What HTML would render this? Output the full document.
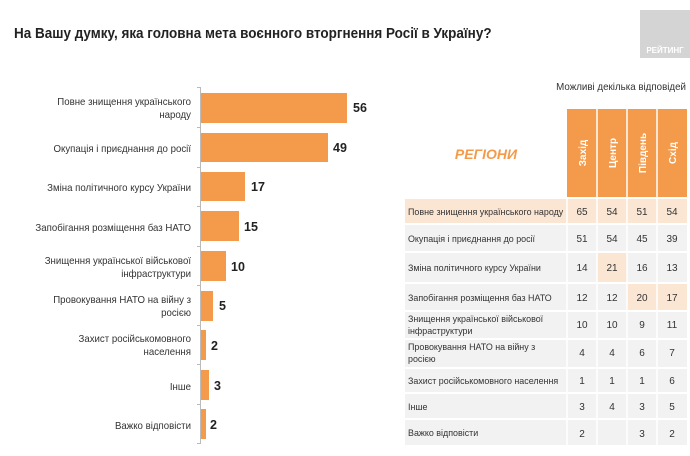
<!DOCTYPE html>
<html><head><meta charset="utf-8"><style>
body{margin:0;width:690px;height:451px;background:#fff;overflow:hidden;font-family:"Liberation Sans",sans-serif;}
svg text{font-family:"Liberation Sans",sans-serif;}
</style></head><body>
<svg width="690" height="451" viewBox="0 0 690 451" xmlns="http://www.w3.org/2000/svg">
<g transform="translate(14,0) scale(0.93,1)"><text x="0" y="38" font-size="14.5" font-weight="bold" fill="#222">На Вашу думку, яка головна мета воєнного вторгнення Росії в Україну?</text></g>
<rect x="640" y="10" width="50" height="48" fill="#d4d4d4"/>
<text x="665" y="53" font-size="8" font-weight="bold" fill="#fff" text-anchor="middle">РЕЙТИНГ</text>
<line x1="200.5" y1="87" x2="200.5" y2="444" stroke="#bbb" stroke-width="1"/>
<g stroke="#bbb">
<line x1="197" y1="87.5" x2="200" y2="87.5"/><line x1="197" y1="127.5" x2="200" y2="127.5"/><line x1="197" y1="167.5" x2="200" y2="167.5"/><line x1="197" y1="206.5" x2="200" y2="206.5"/><line x1="197" y1="246.5" x2="200" y2="246.5"/><line x1="197" y1="285.5" x2="200" y2="285.5"/><line x1="197" y1="325.5" x2="200" y2="325.5"/><line x1="197" y1="364.5" x2="200" y2="364.5"/><line x1="197" y1="404.5" x2="200" y2="404.5"/><line x1="197" y1="443.5" x2="200" y2="443.5"/>
</g>
<g fill="#f39a4b">
<rect x="201" y="93" width="146" height="30"/>
<rect x="201" y="133" width="127" height="29"/>
<rect x="201" y="172" width="44" height="29"/>
<rect x="201" y="211" width="38" height="30"/>
<rect x="201" y="251" width="25" height="30"/>
<rect x="201" y="291" width="12" height="30"/>
<rect x="201" y="330" width="5" height="30"/>
<rect x="201" y="370" width="8" height="30"/>
<rect x="201" y="409" width="5" height="30"/>
</g>
<g font-size="12.5" font-weight="bold" fill="#222">
<text x="353" y="112">56</text><text x="333" y="152">49</text><text x="251" y="191">17</text><text x="244" y="231">15</text><text x="231" y="271">10</text><text x="219" y="310">5</text><text x="211" y="350">2</text><text x="214" y="390">3</text><text x="210" y="429">2</text>
</g>
<g font-size="10.5" fill="#333" text-anchor="end" transform="translate(191,0) scale(0.92,1)">
<text x="0" y="105">Повне знищення українського</text><text x="0" y="118">народу</text>
<text x="0" y="152">Окупація і приєднання до росії</text>
<text x="0" y="191">Зміна політичного курсу України</text>
<text x="0" y="231">Запобігання розміщення баз НАТО</text>
<text x="0" y="264">Знищення української військової</text><text x="0" y="277">інфраструктури</text>
<text x="0" y="303">Провокування НАТО на війну з</text><text x="0" y="316">росією</text>
<text x="0" y="342">Захист російськомовного</text><text x="0" y="355">населення</text>
<text x="0" y="390">Інше</text>
<text x="0" y="429">Важко відповісти</text>
</g>
<g transform="translate(686,0) scale(0.93,1)"><text x="0" y="90" font-size="10.5" fill="#333" text-anchor="end">Можливі декілька відповідей</text></g>
<rect x="567" y="109" width="120" height="88" fill="#f39a4b"/>
<g stroke="#fff" stroke-width="1.5"><line x1="597" y1="109" x2="597" y2="197"/><line x1="627" y1="109" x2="627" y2="197"/><line x1="657" y1="109" x2="657" y2="197"/></g>
<g font-size="10" font-weight="bold" fill="#fff" text-anchor="middle">
<text transform="translate(586,153) rotate(-90)">Захід</text>
<text transform="translate(616,153) rotate(-90)">Центр</text>
<text transform="translate(646,153) rotate(-90)">Південь</text>
<text transform="translate(676,153) rotate(-90)">Схід</text>
</g>
<text x="486" y="159" font-size="14" font-weight="bold" font-style="italic" fill="#f39a4b" text-anchor="middle">РЕГІОНИ</text>
<g fill="#f2f2f2">
<rect x="405" y="199" width="282" height="24" fill="#fbe6d4"/>
<rect x="405" y="225" width="282" height="26"/>
<rect x="405" y="253" width="282" height="29"/>
<rect x="405" y="284" width="282" height="26"/>
<rect x="405" y="312" width="282" height="26"/>
<rect x="405" y="340" width="282" height="27"/>
<rect x="405" y="369" width="282" height="23"/>
<rect x="405" y="394" width="282" height="24"/>
<rect x="405" y="420" width="282" height="25"/>
</g>
<g fill="#fbe6d4"><rect x="597" y="253" width="30" height="29"/><rect x="627" y="284" width="60" height="26"/></g>
<g stroke="#fff" stroke-width="1.5"><line x1="567" y1="199" x2="567" y2="445"/><line x1="597" y1="199" x2="597" y2="445"/><line x1="627" y1="199" x2="627" y2="445"/><line x1="657" y1="199" x2="657" y2="445"/></g>
<g font-size="9.5" fill="#333" transform="translate(408,0) scale(0.94,1)">
<text x="0" y="215">Повне знищення українського народу</text>
<text x="0" y="242">Окупація і приєднання до росії</text>
<text x="0" y="271">Зміна політичного курсу України</text>
<text x="0" y="301">Запобігання розміщення баз НАТО</text>
<text x="0" y="322">Знищення української військової</text><text x="0" y="334">інфраструктури</text>
<text x="0" y="350">Провокування НАТО на війну з</text><text x="0" y="362">росією</text>
<text x="0" y="384">Захист російськомовного населення</text>
<text x="0" y="410">Інше</text>
<text x="0" y="436">Важко відповісти</text>
</g>
<g font-size="10" fill="#333" text-anchor="middle">
<text x="582" y="215">65</text><text x="612" y="215">54</text><text x="642" y="215">51</text><text x="672" y="215">54</text>
<text x="582" y="242">51</text><text x="612" y="242">54</text><text x="642" y="242">45</text><text x="672" y="242">39</text>
<text x="582" y="271">14</text><text x="612" y="271">21</text><text x="642" y="271">16</text><text x="672" y="271">13</text>
<text x="582" y="301">12</text><text x="612" y="301">12</text><text x="642" y="301">20</text><text x="672" y="301">17</text>
<text x="582" y="328">10</text><text x="612" y="328">10</text><text x="642" y="328">9</text><text x="672" y="328">11</text>
<text x="582" y="356">4</text><text x="612" y="356">4</text><text x="642" y="356">6</text><text x="672" y="356">7</text>
<text x="582" y="384">1</text><text x="612" y="384">1</text><text x="642" y="384">1</text><text x="672" y="384">6</text>
<text x="582" y="410">3</text><text x="612" y="410">4</text><text x="642" y="410">3</text><text x="672" y="410">5</text>
<text x="582" y="437">2</text><text x="642" y="437">3</text><text x="672" y="437">2</text>
</g>
</svg>
</body></html>
